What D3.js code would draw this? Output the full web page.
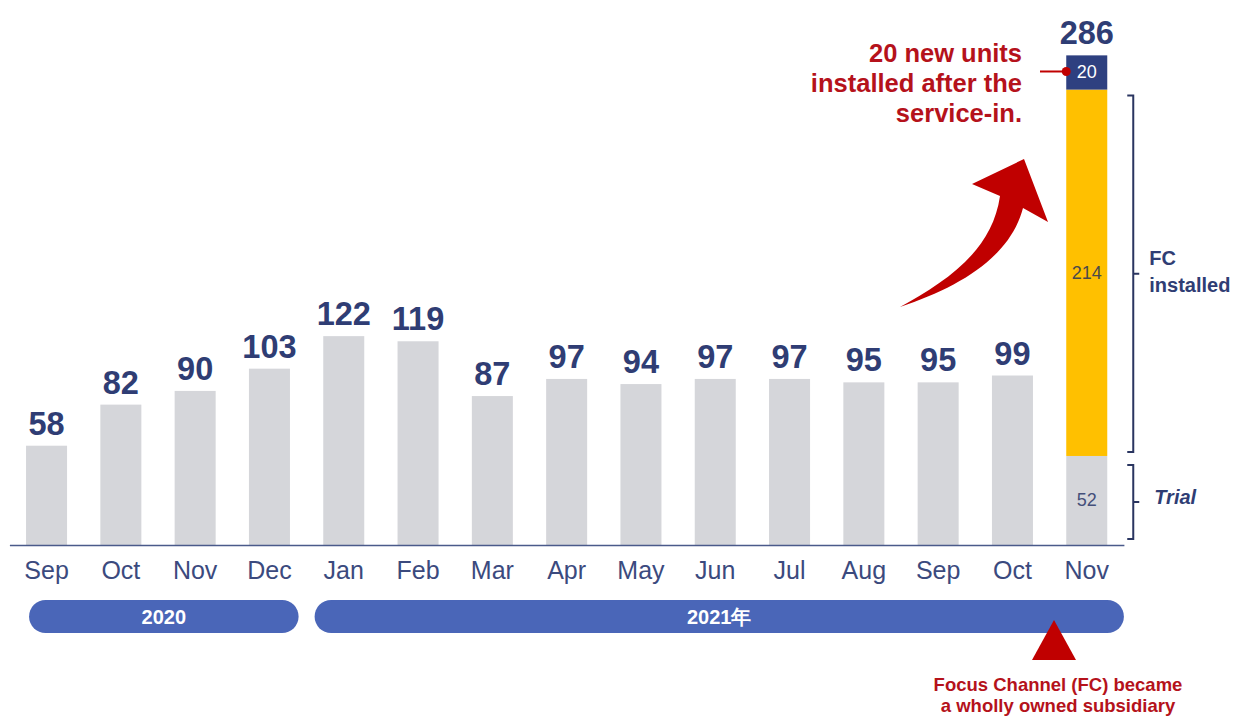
<!DOCTYPE html>
<head>
  <meta charset="utf-8">
  <script src="https://d3js.org/d3.v7.min.js"></script>
  <style>
    body { margin:0; background:#fff; }
    svg { display:block; font-family:"Liberation Sans", Arial, sans-serif; }
  </style>
</head>
<body>
  <svg width="1240" height="716"></svg>
  <script>
    // monthly unit counts, Sep 2020 .. Nov 2021
    var months = ['Sep','Oct','Nov','Dec','Jan','Feb','Mar','Apr','May','Jun','Jul','Aug','Sep','Oct','Nov'];
    var keys = ['2020-09','2020-10','2020-11','2020-12','2021-01','2021-02','2021-03','2021-04','2021-05','2021-06','2021-07','2021-08','2021-09','2021-10','2021-11'];
    var totals = [58, 82, 90, 103, 122, 119, 87, 97, 94, 97, 97, 95, 95, 99, 286];
    // last month split into segments
    var stackNames = ['Trial', 'FC installed', 'new'];
    var stackValues = [52, 214, 20];
    var years = ['2020', '2021年'];
    var yearStart = [0, 4];
    var yearEnd = [3, 14];

    var navy = '#2f3d74', red = '#c00000';
    var baseY = 545;

    var svg = d3.select('svg');

    var x = d3.scaleBand()
      .domain(keys)
      .range([9.4, 1123.9])
      .paddingInner(0.448)
      .paddingOuter(0.224);

    var y = d3.scaleLinear()
      .domain([0, 300])
      .range([baseY, baseY - 300 * 1.712]);

    var bw = x.bandwidth();

    // plain grey bars (all but last month)
    var plain = keys.slice(0, keys.length - 1);
    svg.selectAll('rect.bar')
      .data(plain)
      .enter().append('rect')
      .attr('class', 'bar')
      .attr('x', d => x(d))
      .attr('y', (d, i) => y(totals[i]))
      .attr('width', bw)
      .attr('height', (d, i) => baseY - y(totals[i]))
      .attr('fill', '#d5d6da');

    // stacked last bar
    var lastKey = keys[keys.length - 1];
    var segColors = ['#d5d6da', '#ffc000', '#2e4080'];
    var segText = ['#44507a', '#4a4a4a', '#ffffff'];
    var cum = 0;
    var segs = stackValues.map((v, i) => { var s = {v: v, y0: cum, y1: cum + v, i: i}; cum += v; return s; });
    svg.selectAll('rect.seg')
      .data(segs)
      .enter().append('rect')
      .attr('class', 'seg')
      .attr('x', x(lastKey))
      .attr('y', d => y(d.y1))
      .attr('width', bw)
      .attr('height', d => y(d.y0) - y(d.y1))
      .attr('fill', d => segColors[d.i]);
    svg.selectAll('text.seg')
      .data(segs)
      .enter().append('text')
      .attr('class', 'seg')
      .attr('x', x(lastKey) + bw / 2)
      .attr('y', d => (y(d.y0) + y(d.y1)) / 2 + 6)
      .attr('text-anchor', 'middle')
      .attr('font-size', 18)
      .attr('fill', d => segText[d.i])
      .text(d => d.v);

    // value labels
    svg.selectAll('text.val')
      .data(keys)
      .enter().append('text')
      .attr('class', 'val')
      .attr('x', d => x(d) + bw / 2)
      .attr('y', (d, i) => y(totals[i]) - 11)
      .attr('text-anchor', 'middle')
      .attr('font-size', 32.5)
      .attr('font-weight', 'bold')
      .attr('fill', navy)
      .text((d, i) => totals[i]);

    // axis
    var xAxis = d3.axisBottom(x).tickSize(0).tickPadding(16).tickFormat((d, i) => months[i]);
    var ax = svg.append('g')
      .attr('transform', 'translate(0,' + baseY + ')')
      .call(xAxis);
    ax.select('.domain').attr('stroke', '#4a5a8a').attr('stroke-width', 1.5);
    ax.selectAll('text')
      .attr('font-size', 25)
      .attr('font-family', '"Liberation Sans", Arial, sans-serif')
      .attr('fill', '#3b4a7e');

    // year pills
    var mid = (x(keys[3]) + bw + x(keys[4])) / 2;
    var pillL = [x(keys[0]) + 3, mid + 8];
    var pillR = [mid - 8, x.range()[1]];
    var pills = svg.selectAll('g.pill')
      .data(years)
      .enter().append('g');
    pills.append('rect')
      .attr('x', (d, i) => pillL[i])
      .attr('y', 600)
      .attr('width', (d, i) => pillR[i] - pillL[i])
      .attr('height', 33)
      .attr('rx', 16.5)
      .attr('fill', '#4a66b8');
    pills.append('text')
      .attr('x', (d, i) => (pillL[i] + pillR[i]) / 2)
      .attr('y', 624)
      .attr('text-anchor', 'middle')
      .attr('font-size', 20)
      .attr('font-weight', 'bold')
      .attr('fill', '#fff')
      .text(d => d);

    // braces on the right of the last bar
    function brace(top, bot, bx) {
      var m = (top + bot) / 2;
      return 'M' + (bx - 6) + ',' + top + 'H' + bx + 'V' + bot + 'H' + (bx - 6) +
        'M' + bx + ',' + m + 'H' + (bx + 6);
    }
    var bx = x(lastKey) + bw + 26;
    svg.append('path')
      .attr('d', brace(y(segs[1].y1) + 6, y(segs[1].y0) - 4, bx))
      .attr('fill', 'none').attr('stroke', '#2a3560').attr('stroke-width', 2);
    svg.append('path')
      .attr('d', brace(y(segs[0].y1) + 9, baseY - 6, bx))
      .attr('fill', 'none').attr('stroke', '#2a3560').attr('stroke-width', 2);

    var fcMid = (y(segs[1].y1) + y(segs[1].y0)) / 2;
    var fcLbl = svg.append('text')
      .attr('x', bx + 16)
      .attr('font-size', 20)
      .attr('font-weight', 'bold')
      .attr('fill', navy);
    fcLbl.append('tspan').attr('x', bx + 16).attr('y', fcMid - 8).text('FC');
    fcLbl.append('tspan').attr('x', bx + 16).attr('y', fcMid + 19).text('installed');
    svg.append('text')
      .attr('x', bx + 21)
      .attr('y', (y(segs[0].y1) + baseY) / 2 + 4)
      .attr('font-size', 20)
      .attr('font-weight', 'bold')
      .attr('font-style', 'italic')
      .attr('fill', navy)
      .text('Trial');

    // annotation for the 20 new units
    var newMid = (y(segs[2].y0) + y(segs[2].y1)) / 2;
    svg.append('line')
      .attr('x1', 1040).attr('x2', x(lastKey))
      .attr('y1', newMid - 1).attr('y2', newMid - 1)
      .attr('stroke', red).attr('stroke-width', 2);
    svg.append('circle')
      .attr('cx', x(lastKey)).attr('cy', newMid - 1).attr('r', 4.5)
      .attr('fill', red);
    var note = svg.append('text')
      .attr('text-anchor', 'end')
      .attr('font-size', 25.5)
      .attr('font-weight', 'bold')
      .attr('fill', '#b5121b');
    ['20 new units', 'installed after the', 'service-in.'].forEach((t, i) => {
      note.append('tspan').attr('x', 1022).attr('y', 62 + i * 30).text(t);
    });

    // curved red arrow
    svg.append('path')
      .attr('d', 'M900,307 C945,282 992,252 1000,196 L972,184 L1024,159 L1048,222 L1023,208 C1010,257 960,287 900,307 Z')
      .attr('fill', red);

    // subsidiary marker
    var tx = 1054;
    svg.append('path')
      .attr('d', 'M' + tx + ',620 L' + (tx + 22) + ',660 L' + (tx - 22) + ',660 Z')
      .attr('fill', red);
    var sub = svg.append('text')
      .attr('text-anchor', 'middle')
      .attr('font-size', 18.5)
      .attr('font-weight', 'bold')
      .attr('fill', '#b5121b');
    sub.append('tspan').attr('x', 1058).attr('y', 691).text('Focus Channel (FC) became');
    sub.append('tspan').attr('x', 1058).attr('y', 712).text('a wholly owned subsidiary');
  </script>
</body>
